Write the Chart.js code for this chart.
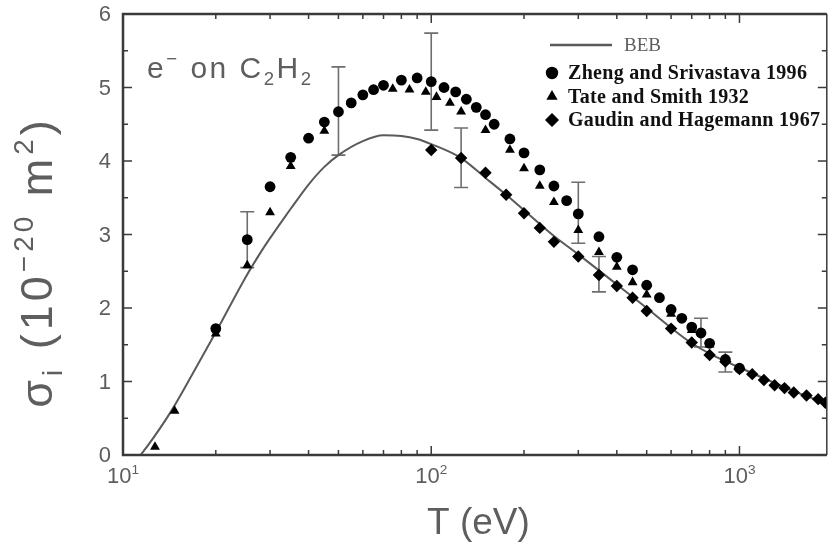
<!DOCTYPE html>
<html>
<head>
<meta charset="utf-8">
<script src="https://cdn.jsdelivr.net/npm/chart.js@4.4.0/dist/chart.umd.min.js"></script>
<style>
  body { margin: 0; background: #fff; }
  #wrap { width: 833px; height: 549px; }
</style>
</head>
<body>
<div id="wrap"><canvas id="csChart" width="833" height="549"></canvas></div>
<script>
// BEB cross section (solid curve)
const bebT = [11.4, 12, 14.2, 17, 20, 25, 28, 30, 33, 35, 40, 45, 50, 60, 70, 80, 90, 100, 125, 150, 175, 200, 250, 300, 400, 500, 600, 700, 800, 1000, 1500, 1920];
const bebSigma = [0, 0.12, 0.57, 1.14, 1.67, 2.42, 2.76, 2.95, 3.2, 3.35, 3.68, 3.92, 4.08, 4.27, 4.35, 4.34, 4.3, 4.23, 4.04, 3.77, 3.54, 3.33, 2.98, 2.73, 2.32, 2.0, 1.73, 1.52, 1.38, 1.19, 0.87, 0.7];

// Zheng and Srivastava 1996
const zhengT = [20, 25.3, 30, 35, 40, 45, 50, 55, 60, 65, 70, 80, 90, 100, 110, 120, 130, 140, 150, 160, 180, 200, 225, 250, 275, 300, 350, 400, 450, 500, 550, 600, 650, 700, 750, 800, 900, 1000];
const zhengSigma = [1.72, 2.93, 3.65, 4.05, 4.31, 4.53, 4.67, 4.79, 4.9, 4.97, 5.03, 5.1, 5.13, 5.08, 5.0, 4.94, 4.84, 4.73, 4.63, 4.5, 4.3, 4.11, 3.88, 3.66, 3.46, 3.28, 2.97, 2.69, 2.52, 2.31, 2.14, 1.98, 1.86, 1.74, 1.66, 1.52, 1.3, 1.18];

// Tate and Smith 1932
const tateT = [12.7, 14.7, 20, 25.3, 30, 35, 45, 75, 85, 96, 104, 115, 125, 150, 180, 200, 225, 250, 300, 350, 400, 450, 500, 600, 700, 800];
const tateSigma = [0.11, 0.6, 1.65, 2.58, 3.3, 3.93, 4.41, 4.98, 4.97, 4.94, 4.87, 4.79, 4.67, 4.42, 4.15, 3.9, 3.66, 3.44, 3.06, 2.76, 2.56, 2.35, 2.18, 1.92, 1.7, 1.5];

// Gaudin and Hagemann 1967
const gaudinT = [100, 125, 150, 175, 200, 225, 250, 300, 350, 400, 450, 500, 600, 700, 800, 900, 1000, 1100, 1200, 1300, 1400, 1500, 1650, 1800, 1900];
const gaudinSigma = [4.15, 4.04, 3.84, 3.54, 3.29, 3.09, 2.9, 2.7, 2.45, 2.3, 2.14, 1.96, 1.72, 1.53, 1.36, 1.27, 1.17, 1.1, 1.02, 0.95, 0.91, 0.85, 0.81, 0.76, 0.71];

// error bars
const errT = [25.3, 50, 100, 125, 300, 350, 750, 900];
const errLow = [2.55, 4.08, 4.42, 3.64, 2.88, 2.22, 1.47, 1.13];
const errHigh = [3.31, 5.28, 5.74, 4.45, 3.71, 2.7, 1.86, 1.4];

const yTicks = [0, 1, 2, 3, 4, 5, 6];
const xDecades = [1, 2, 3];

const pts = (xs, ys) => xs.map((x, i) => ({ x: x, y: ys[i] }));

const SANS = "'Liberation Sans', Arial, sans-serif";
const SERIF = "'Liberation Serif', 'Times New Roman', serif";
const AXIS = "#3a3a3a";
const TEXT = "#5e5e5e";

// draw text runs with sub/superscripts, returns end x
function richText(ctx, runs, x, y, size) {
  runs.forEach(function (r) {
    const s = r.sup || r.sub ? size * 0.62 : size;
    const dy = r.sup ? -size * 0.42 : r.sub ? size * 0.22 : 0;
    ctx.font = s + "px " + SANS;
    ctx.fillText(r.t, x, y + dy);
    x += ctx.measureText(r.t).width;
  });
  return x;
}
function richWidth(ctx, runs, size) {
  let w = 0;
  runs.forEach(function (r) {
    const s = r.sup || r.sub ? size * 0.62 : size;
    ctx.font = s + "px " + SANS;
    w += ctx.measureText(r.t).width;
  });
  return w;
}

const errorBars = {
  id: "errorBars",
  beforeDatasetsDraw(chart) {
    const { ctx, scales: { x, y } } = chart;
    ctx.save();
    ctx.strokeStyle = "#6e6e6e";
    ctx.lineWidth = 1.6;
    errT.forEach(function (t, i) {
      const px = x.getPixelForValue(t);
      const y1 = y.getPixelForValue(errLow[i]);
      const y2 = y.getPixelForValue(errHigh[i]);
      ctx.beginPath();
      ctx.moveTo(px, y1); ctx.lineTo(px, y2);
      ctx.moveTo(px - 7, y1); ctx.lineTo(px + 7, y1);
      ctx.moveTo(px - 7, y2); ctx.lineTo(px + 7, y2);
      ctx.stroke();
    });
    ctx.restore();
  },
};

const frame = {
  id: "frame",
  afterDatasetsDraw(chart) {
    const { ctx, chartArea: a, scales: { x, y } } = chart;
    ctx.save();
    ctx.strokeStyle = AXIS;
    ctx.lineWidth = 2.5;
    ctx.beginPath();
    ctx.moveTo(a.right, a.top); ctx.lineTo(a.left, a.top);
    ctx.lineTo(a.left, a.bottom); ctx.lineTo(a.right, a.bottom);
    ctx.stroke();
    ctx.lineWidth = 1.5;
    ctx.beginPath();
    ctx.moveTo(a.right, a.top); ctx.lineTo(a.right, a.bottom);
    ctx.stroke();

    // inward ticks on all four sides
    ctx.lineWidth = 1.5;
    ctx.beginPath();
    for (let d = 1; d <= 3; d++) {
      for (let k = 1; k <= 9; k++) {
        const v = k * Math.pow(10, d);
        if (v > x.max) break;
        const px = x.getPixelForValue(v);
        const len = k === 1 ? 9 : 5;
        ctx.moveTo(px, a.bottom); ctx.lineTo(px, a.bottom - len);
        ctx.moveTo(px, a.top); ctx.lineTo(px, a.top + len);
      }
    }
    for (let v = 0; v <= 6; v += 0.5) {
      const py = y.getPixelForValue(v);
      const len = v % 1 === 0 ? 9 : 5;
      ctx.moveTo(a.left, py); ctx.lineTo(a.left + len, py);
      ctx.moveTo(a.right, py); ctx.lineTo(a.right - len, py);
    }
    ctx.stroke();

    // tick labels
    ctx.fillStyle = TEXT;
    ctx.textBaseline = "middle";
    ctx.textAlign = "right";
    ctx.font = "22px " + SANS;
    yTicks.forEach(function (v) {
      ctx.fillText(String(v), a.left - 12, y.getPixelForValue(v) + 1);
    });
    ctx.textAlign = "left";
    ctx.textBaseline = "alphabetic";
    xDecades.forEach(function (d) {
      const runs = [{ t: "10" }, { t: String(d), sup: true }];
      const w = richWidth(ctx, runs, 22);
      richText(ctx, runs, x.getPixelForValue(Math.pow(10, d)) - w / 2, a.bottom + 28, 22);
    });

    // axis titles
    richText(ctx, [{ t: "T (eV)" }], 427, 534, 37);

    const yTitle = [
      { t: "\u03c3" }, { t: "i", sub: true }, { t: " (10" }, { t: "\u221220", sup: true },
      { t: " m" }, { t: "2", sup: true }, { t: ")" },
    ];
    ctx.save();
    ctx.translate(52, 262);
    ctx.rotate(-Math.PI / 2);
    ctx.letterSpacing = "4px";
    const yw = richWidth(ctx, yTitle, 45);
    richText(ctx, yTitle, -yw / 2, 0, 45);
    ctx.restore();

    // species label
    ctx.letterSpacing = "2.5px";
    richText(ctx, [{ t: "e" }, { t: "\u2212", sup: true }, { t: " on C" }, { t: "2", sub: true }, { t: "H" }, { t: "2", sub: true }], 147, 78, 30);
    ctx.letterSpacing = "0px";
    ctx.restore();
  },
};

const legendBox = {
  id: "legendBox",
  afterDraw(chart) {
    const { ctx } = chart;
    const ds = chart.data.datasets;
    ctx.save();
    // line entry
    ctx.strokeStyle = ds[0].borderColor;
    ctx.lineWidth = 2.5;
    ctx.beginPath();
    ctx.moveTo(550, 45); ctx.lineTo(612, 45);
    ctx.stroke();
    ctx.fillStyle = TEXT;
    ctx.textBaseline = "middle";
    ctx.font = "19px " + SERIF;
    ctx.fillText(ds[0].label, 624, 46);
    // marker entries
    ctx.font = "bold 20px " + SERIF;
    ctx.letterSpacing = "0.3px";
    for (let i = 1; i < ds.length; i++) {
      const yy = 73 + (i - 1) * 23.5;
      ctx.fillStyle = "#000";
      Chart.helpers.drawPoint(ctx, {
        pointStyle: ds[i].pointStyle,
        radius: ds[i].pointRadius + 0.8,
        rotation: 0,
        borderWidth: 0,
      }, 552, yy);
      ctx.fillStyle = "#111";
      ctx.fillText(ds[i].label, 568, yy + 1);
    }
    ctx.restore();
  },
};

const ctx = document.getElementById("csChart").getContext("2d");
const csChart = new Chart(ctx, {
  type: "scatter",
  data: {
    datasets: [
      {
        type: "line",
        label: "BEB",
        data: pts(bebT, bebSigma),
        borderColor: "#5a5a5a",
        borderWidth: 2,
        pointRadius: 0,
        cubicInterpolationMode: "monotone",
        fill: false,
        order: 10,
      },
      {
        label: "Zheng and Srivastava 1996",
        data: pts(zhengT, zhengSigma),
        pointStyle: "circle",
        pointRadius: 5.4,
        backgroundColor: "#000",
        borderWidth: 0,
        order: 1,
      },
      {
        label: "Tate and Smith 1932",
        data: pts(tateT, tateSigma),
        pointStyle: "triangle",
        pointRadius: 5.7,
        backgroundColor: "#000",
        borderWidth: 0,
        order: 2,
      },
      {
        label: "Gaudin and Hagemann 1967",
        data: pts(gaudinT, gaudinSigma),
        pointStyle: "rectRot",
        pointRadius: 6.2,
        backgroundColor: "#000",
        borderWidth: 0,
        order: 3,
      },
    ],
  },
  options: {
    responsive: false,
    animation: false,
    layout: { padding: { left: 123, right: 2, top: 14, bottom: 94 } },
    scales: {
      x: { type: "logarithmic", min: 10, max: 1920, display: false },
      y: { type: "linear", min: 0, max: 6, display: false },
    },
    plugins: {
      legend: { display: false },
      tooltip: { enabled: false },
    },
  },
  plugins: [errorBars, frame, legendBox],
});
</script>
</body>
</html>
